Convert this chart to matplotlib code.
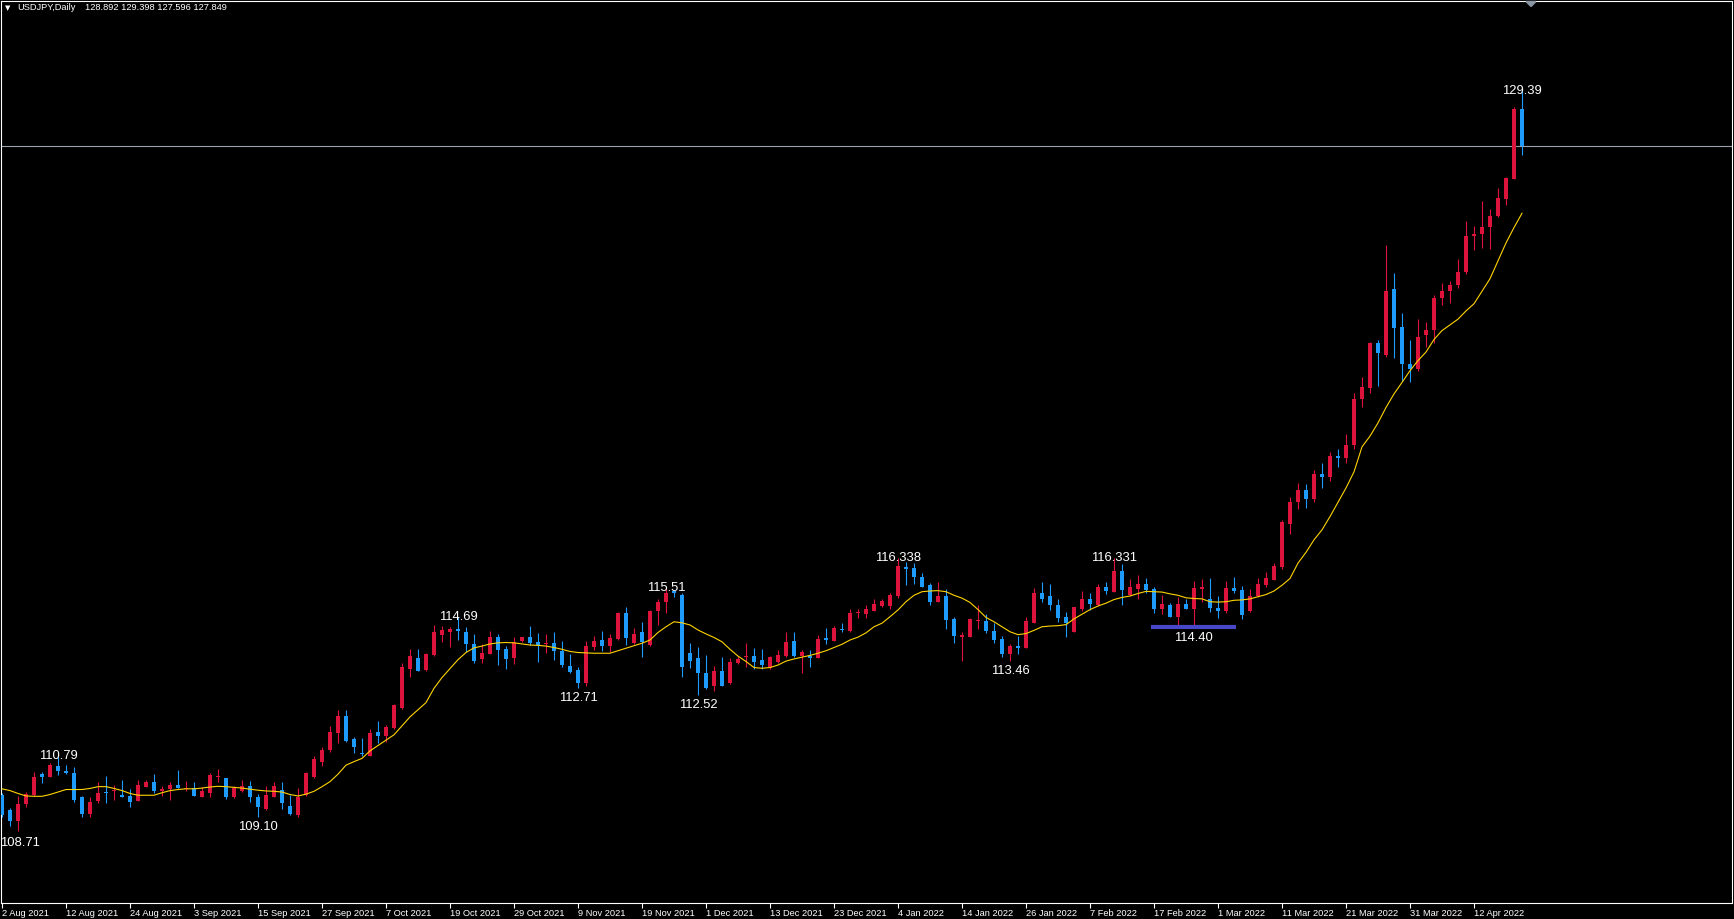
import matplotlib.pyplot as plt
from matplotlib.patches import Polygon

W, H = 1734, 919

# daily USDJPY bars (open, high, low, close)
opens = [109.72, 109.30, 109.00, 109.46, 109.72, 110.30, 110.23, 110.53, 110.40, 110.34,
         109.65, 109.19, 109.56, 109.81, 109.82, 109.72, 109.69, 109.56, 109.95, 110.07,
         109.83, 109.88, 110.00, 109.88, 109.92, 109.67, 109.78, 110.23, 110.18, 109.65,
         109.84, 109.97, 109.67, 109.33, 109.67, 109.87, 109.41, 109.16, 109.72, 110.23,
         110.65, 110.98, 111.46, 111.93, 111.27, 110.89, 110.82, 111.47, 111.38, 111.58,
         112.14, 113.23, 113.54, 113.21, 113.63, 114.19, 114.28, 114.36, 114.26, 113.94,
         113.52, 113.66, 114.14, 113.79, 113.54, 114.02, 114.12, 114.00, 113.93, 113.98,
         113.75, 113.32, 113.21, 112.86, 113.86, 114.05, 113.88, 114.07, 114.81, 113.98,
         114.26, 113.91, 114.86, 115.12, 115.43, 115.31, 113.68, 113.54, 113.12, 112.75,
         113.19, 112.84, 113.42, 113.57, 113.60, 113.49, 113.26, 113.44, 113.61, 114.02,
         113.60, 113.60, 113.54, 114.10, 114.03, 114.35, 114.31, 114.80, 114.78, 114.87,
         115.00, 115.00, 115.28, 116.10, 116.07, 115.82, 115.59, 115.12, 115.28, 114.64,
         114.14, 114.12, 114.59, 114.58, 114.31, 114.07, 113.65, 113.87, 113.84, 114.53,
         115.37, 115.28, 115.03, 114.68, 114.28, 114.92, 115.19, 115.03, 115.52, 115.40,
         115.98, 115.31, 115.48, 115.62, 115.47, 114.92, 115.03, 114.70, 115.06, 114.92,
         115.48, 115.19, 114.95, 114.87, 115.51, 115.45, 114.87, 115.28, 115.59, 115.73,
         116.10, 117.28, 117.90, 118.25, 118.00, 118.70, 118.60, 119.20, 119.15, 119.50,
         120.79, 121.10, 122.34, 122.02, 123.85, 122.79, 121.77, 121.62, 122.58, 122.72,
         123.60, 123.80, 123.97, 124.33, 125.35, 125.40, 125.60, 125.90, 126.38, 126.94,
         128.892]
highs = [109.78, 109.34, 109.69, 109.81, 110.37, 110.37, 110.62, 110.79, 110.55, 110.51,
         109.69, 109.65, 110.08, 110.25, 110.00, 110.15, 109.88, 110.14, 110.14, 110.30,
         109.97, 110.09, 110.42, 110.11, 110.09, 109.95, 110.34, 110.43, 110.19, 109.97,
         110.15, 110.12, 109.74, 109.97, 110.09, 110.07, 109.72, 109.90, 110.37, 110.81,
         111.07, 111.65, 112.08, 112.09, 111.35, 111.30, 111.55, 111.79, 111.67, 112.25,
         113.40, 113.79, 113.79, 113.70, 114.47, 114.44, 114.42, 114.69, 114.40, 114.22,
         113.94, 114.30, 114.22, 113.88, 114.12, 114.14, 114.44, 114.24, 114.22, 114.27,
         114.02, 113.66, 113.30, 114.02, 114.16, 114.30, 114.22, 114.84, 114.98, 114.38,
         114.54, 114.89, 115.21, 115.51, 115.45, 115.35, 113.96, 113.86, 113.63, 113.31,
         113.58, 113.54, 113.60, 113.97, 113.82, 113.79, 113.60, 113.77, 114.27, 114.26,
         113.77, 113.77, 114.19, 114.38, 114.44, 114.52, 114.93, 114.93, 115.03, 115.19,
         115.19, 115.37, 116.338, 116.24, 116.19, 115.91, 115.63, 115.68, 115.47, 114.68,
         114.28, 114.66, 115.03, 114.78, 114.53, 114.16, 113.94, 114.16, 114.68, 115.49,
         115.66, 115.61, 115.19, 114.84, 114.98, 115.42, 115.37, 115.61, 115.66, 116.331,
         116.17, 115.75, 115.87, 115.77, 115.52, 115.31, 115.09, 115.24, 115.19, 115.70,
         115.75, 115.77, 115.28, 115.70, 115.82, 115.56, 115.47, 115.77, 115.96, 116.19,
         117.40, 118.05, 118.45, 118.40, 118.80, 119.00, 119.30, 119.40, 119.80, 120.95,
         121.39, 122.39, 122.44, 125.10, 124.30, 123.18, 122.44, 123.02, 122.93, 123.70,
         124.03, 124.10, 124.69, 125.77, 125.63, 126.32, 126.10, 126.68, 127.00, 128.96,
         129.398]
lows = [109.11, 108.86, 108.71, 109.37, 109.69, 110.04, 110.21, 110.28, 110.30, 109.53,
        109.09, 109.11, 109.48, 109.48, 109.58, 109.65, 109.39, 109.55, 109.93, 109.78,
        109.69, 109.58, 109.90, 109.84, 109.69, 109.65, 109.67, 110.09, 109.60, 109.64,
        109.81, 109.53, 109.10, 109.30, 109.65, 109.32, 109.16, 109.11, 109.69, 110.18,
        110.53, 110.93, 111.18, 111.21, 110.90, 110.82, 110.82, 111.18, 111.21, 111.55,
        112.11, 113.01, 113.19, 113.19, 113.60, 114.00, 113.86, 114.05, 113.72, 113.42,
        113.42, 113.66, 113.35, 113.24, 113.38, 114.00, 113.91, 113.44, 113.70, 113.49,
        113.29, 113.12, 112.71, 112.77, 113.77, 113.75, 113.72, 114.05, 113.91, 113.94,
        113.58, 113.88, 114.47, 114.81, 115.26, 113.02, 113.28, 112.52, 112.67, 112.63,
        112.75, 112.82, 113.38, 113.30, 113.23, 113.23, 113.24, 113.42, 113.57, 113.57,
        113.14, 113.29, 113.54, 113.94, 114.03, 114.26, 114.28, 114.66, 114.66, 114.87,
        114.96, 114.92, 115.22, 115.59, 115.62, 115.52, 115.03, 115.12, 114.36, 113.96,
        113.47, 114.12, 114.35, 114.24, 113.97, 113.58, 113.46, 113.66, 113.82, 114.52,
        115.12, 114.89, 114.56, 114.14, 114.28, 114.86, 114.89, 115.00, 115.34, 115.40,
        115.03, 115.28, 115.21, 115.35, 114.81, 114.78, 114.70, 114.47, 114.92, 114.40,
        115.12, 114.84, 114.67, 114.80, 115.37, 114.64, 114.82, 115.26, 115.54, 115.73,
        116.03, 117.00, 117.70, 117.75, 117.90, 118.30, 118.50, 118.90, 119.00, 119.40,
        120.57, 120.95, 121.15, 121.97, 121.94, 121.29, 121.27, 121.58, 122.25, 122.34,
        123.41, 123.46, 123.88, 124.27, 124.94, 125.00, 124.98, 125.88, 126.21, 126.94,
        127.596]
closes = [109.16, 109.00, 109.46, 109.74, 110.21, 110.21, 110.56, 110.40, 110.32, 109.58,
          109.19, 109.53, 109.78, 109.78, 109.84, 109.67, 109.53, 110.00, 110.09, 109.84,
          109.88, 110.00, 109.92, 109.90, 109.70, 109.84, 110.28, 110.25, 109.65, 109.90,
          109.97, 109.65, 109.37, 109.72, 109.97, 109.48, 109.19, 109.67, 110.34, 110.72,
          110.98, 111.49, 111.93, 111.24, 111.05, 110.87, 111.44, 111.38, 111.63, 112.23,
          113.29, 113.60, 113.19, 113.66, 114.26, 114.33, 114.35, 114.31, 113.94, 113.47,
          113.70, 114.12, 113.77, 113.52, 113.99, 114.12, 113.98, 113.91, 113.98, 113.75,
          113.35, 113.16, 112.84, 113.88, 114.02, 113.88, 114.10, 114.81, 114.10, 114.21,
          114.00, 114.86, 115.12, 115.37, 115.37, 113.30, 113.47, 113.12, 112.70, 113.17,
          112.76, 113.43, 113.52, 113.60, 113.44, 113.35, 113.57, 113.63, 114.00, 113.60,
          113.72, 113.54, 114.07, 114.05, 114.38, 114.33, 114.81, 114.81, 114.91, 115.06,
          115.15, 115.31, 116.12, 116.03, 115.82, 115.54, 115.12, 115.28, 114.61, 114.16,
          114.18, 114.63, 114.62, 114.31, 114.05, 113.66, 113.88, 113.84, 114.59, 115.35,
          115.21, 115.03, 114.66, 114.53, 114.96, 115.19, 115.06, 115.52, 115.42, 115.98,
          115.45, 115.52, 115.62, 115.45, 114.92, 115.06, 114.70, 115.06, 114.92, 115.51,
          115.54, 114.95, 114.87, 115.51, 115.42, 114.75, 115.28, 115.62, 115.79, 116.12,
          117.35, 117.90, 118.25, 118.00, 118.70, 118.60, 119.20, 119.15, 119.50, 120.80,
          121.11, 122.34, 122.06, 123.80, 122.78, 121.76, 121.63, 122.51, 122.73, 123.60,
          123.80, 123.97, 124.33, 125.35, 125.40, 125.60, 125.90, 126.41, 126.97, 128.89,
          127.849]

# yellow moving average, one value per bar
ma = [109.89, 109.84, 109.76, 109.69, 109.68, 109.68, 109.73, 109.80, 109.87, 109.87,
      109.87, 109.90, 109.95, 109.95, 109.90, 109.84, 109.76, 109.71, 109.71, 109.71,
      109.78, 109.84, 109.87, 109.89, 109.89, 109.91, 109.94, 109.96, 109.95, 109.93,
      109.91, 109.88, 109.85, 109.83, 109.82, 109.80, 109.73, 109.69, 109.74, 109.82,
      109.95, 110.09, 110.30, 110.55, 110.65, 110.74, 110.95, 111.10, 111.25, 111.40,
      111.65, 111.90, 112.10, 112.30, 112.70, 113.00, 113.25, 113.50, 113.70, 113.83,
      113.88, 113.94, 113.97, 113.98, 113.97, 113.94, 113.91, 113.90, 113.88, 113.84,
      113.79, 113.73, 113.70, 113.69, 113.68, 113.68, 113.68, 113.75, 113.82, 113.89,
      113.96, 114.05, 114.26, 114.42, 114.56, 114.53, 114.47, 114.33, 114.22, 114.12,
      114.00, 113.79, 113.60, 113.45, 113.28, 113.26, 113.28, 113.35, 113.46, 113.52,
      113.57, 113.62, 113.68, 113.75, 113.84, 113.93, 114.05, 114.13, 114.25, 114.42,
      114.52, 114.70, 114.89, 115.12, 115.30, 115.40, 115.42, 115.43, 115.40, 115.30,
      115.22, 115.10, 114.90, 114.68, 114.56, 114.42, 114.28, 114.20, 114.23, 114.32,
      114.42, 114.44, 114.45, 114.48, 114.64, 114.77, 114.90, 115.00, 115.08, 115.18,
      115.24, 115.28, 115.35, 115.41, 115.40, 115.39, 115.34, 115.30, 115.23, 115.21,
      115.20, 115.12, 115.11, 115.12, 115.16, 115.17, 115.20, 115.26, 115.32, 115.42,
      115.58, 115.77, 116.20, 116.50, 116.85, 117.13, 117.50, 117.90, 118.30, 118.75,
      119.45, 119.75, 120.12, 120.55, 120.93, 121.25, 121.58, 121.86, 122.10, 122.45,
      122.70, 122.86, 123.02, 123.25, 123.45, 123.80, 124.15, 124.65, 125.15, 125.58,
      125.98]

tick_labels = ['2 Aug 2021', '12 Aug 2021', '24 Aug 2021', '3 Sep 2021', '15 Sep 2021',
               '27 Sep 2021', '7 Oct 2021', '19 Oct 2021', '29 Oct 2021', '9 Nov 2021',
               '19 Nov 2021', '1 Dec 2021', '13 Dec 2021', '23 Dec 2021', '4 Jan 2022',
               '14 Jan 2022', '26 Jan 2022', '7 Feb 2022', '17 Feb 2022', '1 Mar 2022',
               '11 Mar 2022', '21 Mar 2022', '31 Mar 2022', '12 Apr 2022']
tick_step = 8

# swing labels drawn on the chart
mark_bars = [7, 2, 32, 57, 72, 83, 87, 112, 126, 139, 190]
mark_side = ['high', 'low', 'low', 'high', 'low', 'high', 'low', 'high', 'low', 'high', 'high']
mark_text = ['110.79', '108.71', '109.10', '114.69', '112.71', '115.51', '112.52',
             '116.338', '113.46', '116.331', '129.39']

# support line
level = 114.40
level_start, level_end = 143.6, 154.25
last_price = 127.849

BULL = '#DC143C'
BEAR = '#1E9BFF'
LABEL_FONT = dict(color='white', fontsize=9.4, zorder=6)

plt.rcParams['font.family'] = ['Liberation Sans', 'DejaVu Sans']

fig = plt.figure(figsize=(W / 100, H / 100), dpi=100, facecolor='black')
ax = fig.add_axes([0.5 / W, 1 - 902.5 / H, 1732 / W, 901.5 / H])
ax.set_facecolor('black')

n = len(closes)
x = list(range(n))
px = 1 / 35.77  # one pixel in price units
cols = [BULL if c >= o else BEAR for o, c in zip(opens, closes)]
bottoms = [min(o, c) for o, c in zip(opens, closes)]
heights = [max(abs(c - o), px) for o, c in zip(opens, closes)]

ax.vlines(x, lows, highs, colors=cols, linewidth=0.8, zorder=2)
ax.bar(x, heights, bottom=bottoms, width=0.62, color=cols, linewidth=0, zorder=3)
ax.plot(x, ma, color='#FFD400', linewidth=0.8, zorder=4)

ax.axhline(last_price, color='#9aa3ad', linewidth=0.8, zorder=1)
ax.hlines(level, level_start, level_end, color='#4747C8', linewidth=3, zorder=5)
ax.annotate(f'{level:.2f}', ((level_start + level_end) / 2, level), xytext=(0, -3),
            textcoords='offset points', ha='center', va='top', **LABEL_FONT)

for b, side, t in zip(mark_bars, mark_side, mark_text):
    if side == 'high':
        ax.annotate(t, (b, highs[b]), xytext=(0, -2), textcoords='offset points',
                    ha='center', va='baseline', **LABEL_FONT)
    elif b < 4:
        # too close to the left edge: pin the text to the frame
        ax.annotate(t, (0, lows[b]), xycoords=('axes fraction', 'data'),
                    xytext=(0, -4), textcoords='offset points',
                    ha='left', va='top', **LABEL_FONT)
    else:
        ax.annotate(t, (b, lows[b]), xytext=(0, -3), textcoords='offset points',
                    ha='center', va='top', **LABEL_FONT)

ax.set_xlim((0.5 - 2) / 8, (1732.5 - 2) / 8)
ax.set_ylim(129.398 - (902.5 - 91) / 35.77, 129.398 + (91 - 1) / 35.77)

ax.set_xticks(range(0, tick_step * len(tick_labels), tick_step))
ax.set_xticklabels(tick_labels, ha='left', fontsize=6.7)
ax.tick_params(axis='x', colors='white', length=3.3, width=0.8, pad=1.5)
ax.set_yticks([])
for s in ax.spines.values():
    s.set_color('white')
    s.set_linewidth(0.8)

# header line and chart-shift marker
fig.text(5 / W, 1 - 8 / H, '\u25bc', color='white', fontsize=5, va='center',
         family='DejaVu Sans')
fig.text(17 / W, 1 - 8 / H, 'USDJPY,Daily', color='white', fontsize=6.7, va='center')
fig.text(85 / W, 1 - 8 / H, '128.892 129.398 127.596 127.849', color='white',
         fontsize=6.7, va='center')
fig.patches.append(Polygon([(1526 / W, 1 - 1.5 / H), (1536 / W, 1 - 1.5 / H),
                            (1531 / W, 1 - 6.5 / H)], closed=True,
                           transform=fig.transFigure, color='#8a96a3'))

fig.savefig('out.png', dpi=100, facecolor='black')
